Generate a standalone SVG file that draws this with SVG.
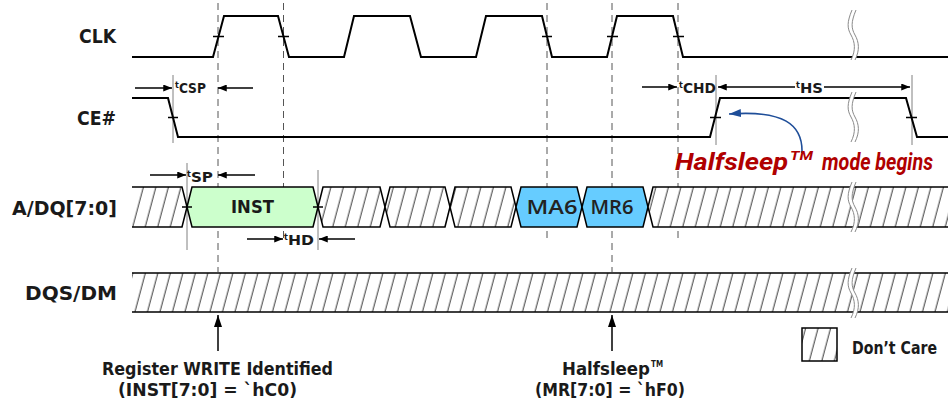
<svg xmlns="http://www.w3.org/2000/svg" width="951" height="401" viewBox="0 0 951 401">
<style>
.sig{fill:none;stroke:#000;stroke-width:2;stroke-linejoin:miter}
.bus{stroke:#000;stroke-width:1.5;stroke-linejoin:miter}
.open{fill:none;stroke:#000;stroke-width:1.5}
.tick{stroke:#000;stroke-width:1.5}
.dash{stroke:#555;stroke-width:1;stroke-dasharray:7 5;fill:none}
.ref{stroke:#808080;stroke-width:1}
.dim{stroke:#000;stroke-width:1.5;fill:none}
.lbl{font-family:"DejaVu Sans Condensed","DejaVu Sans",sans-serif;font-weight:bold;font-stretch:condensed;fill:#1a1a1a}
.big{font-size:19px}
.tl{font-size:14px}
.bot{font-size:18px}
.cell{font-family:"Open Sans","Noto Sans",sans-serif;font-weight:600;font-size:19px;fill:#222;text-anchor:middle}
.hs{font-family:Roboto,"Open Sans",sans-serif;font-weight:bold;font-style:italic;fill:#b00000}
</style>
<defs>
<pattern id="hatch" patternUnits="userSpaceOnUse" width="12.5" height="40" patternTransform="skewX(-15)">
<rect x="-1" y="-1" width="14.5" height="42" fill="#fff"/>
<line x1="6" y1="-2" x2="6" y2="42" stroke="#333" stroke-width="1"/>
</pattern>
<marker id="ah" viewBox="0 0 10 8" refX="10" refY="4" markerWidth="10" markerHeight="7" markerUnits="userSpaceOnUse" orient="auto"><path d="M0,0 L10,4 L0,8 Z" fill="#000"/></marker>
<marker id="ahl" viewBox="0 0 12 8" refX="12" refY="4" markerWidth="12" markerHeight="8" markerUnits="userSpaceOnUse" orient="auto"><path d="M0,0 L12,4 L0,8 Z" fill="#000"/></marker>
<marker id="ahb" viewBox="0 0 12 8" refX="12" refY="4" markerWidth="12" markerHeight="8" markerUnits="userSpaceOnUse" orient="auto"><path d="M0,0 L12,4 L0,8 Z" fill="#1f4e99"/></marker>
<g id="brk">
<path d="M3,0 C-2,12 -2,18 2,25 S7,40 2,50 L6,50 C11,40 10,32 6,25 S2,12 7,0 Z" fill="#fff"/>
<path d="M3,0 C-2,12 -2,18 2,25 S7,40 2,50 M7,0 C2,12 2,18 6,25 S11,40 6,50" fill="none" stroke="#8a8a8a" stroke-width="1"/>
</g>
</defs>

<rect width="951" height="401" fill="#fff"/>

<!-- signal labels -->
<g id="labels" class="lbl big" text-anchor="end">
<text x="116" y="43" textLength="37" lengthAdjust="spacingAndGlyphs">CLK</text>
<text x="116" y="125" textLength="39" lengthAdjust="spacingAndGlyphs">CE#</text>
<text x="117" y="215" textLength="105" lengthAdjust="spacingAndGlyphs">A/DQ[7:0]</text>
<text x="117" y="300" textLength="92" lengthAdjust="spacingAndGlyphs">DQS/DM</text>
</g>

<!-- connectors: dashed timing references, reference lines, dimension arrows -->
<g id="connectors">
<line class="dash" x1="218" y1="3" x2="218" y2="272"/>
<line class="dash" x1="283.5" y1="3" x2="283.5" y2="243"/>
<line class="dash" x1="547" y1="3" x2="547" y2="238"/>
<line class="dash" x1="612" y1="3" x2="612" y2="272"/>
<line class="dash" x1="678" y1="3" x2="678" y2="238"/>

<line class="ref" x1="173" y1="75" x2="173" y2="143"/>
<line class="ref" x1="187" y1="163" x2="187" y2="250"/>
<line class="ref" x1="318" y1="170" x2="318" y2="250"/>
<line class="ref" x1="716" y1="75" x2="716" y2="145"/>
<line class="ref" x1="912" y1="75" x2="912" y2="145"/>

<line class="dim" x1="135" y1="88" x2="172" y2="88" marker-end="url(#ah)"/>
<line class="dim" x1="253" y1="88" x2="218" y2="88" marker-end="url(#ah)"/>
<line class="dim" x1="150" y1="175" x2="186" y2="175" marker-end="url(#ah)"/>
<line class="dim" x1="255" y1="175" x2="218" y2="175" marker-end="url(#ah)"/>
<line class="dim" x1="247" y1="239" x2="283" y2="239" marker-end="url(#ah)"/>
<line class="dim" x1="355" y1="239" x2="319" y2="239" marker-end="url(#ah)"/>
<line class="dim" x1="642" y1="87" x2="677" y2="87" marker-end="url(#ah)"/>
<line class="dim" x1="795" y1="87" x2="718" y2="87" marker-end="url(#ah)"/>
<line class="dim" x1="824" y1="87" x2="910" y2="87" marker-end="url(#ah)"/>

<line class="dim" x1="218" y1="351" x2="218" y2="315" marker-end="url(#ahl)"/>
<line class="dim" x1="612" y1="351" x2="612" y2="315" marker-end="url(#ahl)"/>

<path d="M802,153 C803,124 783,110 729,114" fill="none" stroke="#1f4e99" stroke-width="1.6" marker-end="url(#ahb)"/>
</g>

<!-- CLK -->
<g id="sig-clk">
<path class="sig" d="M132,57 H213 L224,16 H278 L289,57 H344 L354,16 H410 L421,57 H476 L486,16 H542 L552,57 H607 L617,16 H673 L683,57 H948"/>
<path class="tick" d="M213,36.5 H224 M278,36.5 H289 M542,36.5 H552 M607,36.5 H618 M673,36.5 H684"/>
<use href="#brk" x="849" y="10"/>
</g>

<!-- CE# -->
<g id="sig-ce">
<path class="sig" d="M132,98 H168 L178,137 H710 L720,98 H906 L917,137 H948"/>
<path class="tick" d="M168,117.5 H178 M710,117.5 H721 M906,117.5 H917"/>
<use href="#brk" x="849" y="92"/>
</g>

<!-- A/DQ[7:0] bus -->
<g id="sig-adq">
<path d="M132,187 H182 L187,207 L182,227 H132 Z" fill="url(#hatch)"/>
<path class="open" d="M132,187 H182 L187,207 L182,227 H132"/>
<g id="cell-inst">
<polygon class="bus" points="187,207 192,187 313,187 318,207 313,227 192,227" fill="#ccffcc"/>
<text class="lbl" x="252.5" y="213" font-size="18" text-anchor="middle" textLength="43" lengthAdjust="spacingAndGlyphs">INST</text>
</g>
<polygon class="bus" points="318,207 323,187 380,187 385,207 380,227 323,227" fill="url(#hatch)"/>
<polygon class="bus" points="385,207 390,187 445,187 450,207 445,227 390,227" fill="url(#hatch)"/>
<polygon class="bus" points="450,207 455,187 511,187 516,207 511,227 455,227" fill="url(#hatch)"/>
<g id="cell-ma6">
<polygon class="bus" points="516,207 521,187 577,187 582,207 577,227 521,227" fill="#66ccff"/>
<text class="cell" x="552" y="214" textLength="51" lengthAdjust="spacingAndGlyphs">MA6</text>
</g>
<g id="cell-mr6">
<polygon class="bus" points="582,207 587,187 643,187 648,207 643,227 587,227" fill="#66ccff"/>
<text class="cell" x="612" y="214" textLength="43" lengthAdjust="spacingAndGlyphs">MR6</text>
</g>
<path d="M648,207 L653,187 H948 V227 H653 Z" fill="url(#hatch)"/>
<path class="open" d="M948,187 H653 L648,207 L653,227 H948"/>
<path class="tick" d="M182,207 H192 M313,207 H323"/>
<use href="#brk" x="849" y="182"/>
</g>

<!-- DQS/DM -->
<g id="sig-dqs">
<rect x="132" y="273" width="816" height="39" fill="url(#hatch)"/>
<path class="open" d="M132,273 H948 M132,312 H948"/>
<use href="#brk" x="849" y="268"/>
</g>

<!-- timing labels -->
<g id="timing-labels" class="lbl tl">
<text x="175" y="93"><tspan font-size="9" dy="-5">t</tspan><tspan dy="5" textLength="27" lengthAdjust="spacingAndGlyphs">CSP</tspan></text>
<text x="187" y="182"><tspan font-size="9" dy="-5">t</tspan><tspan dy="5" textLength="22" lengthAdjust="spacingAndGlyphs">SP</tspan></text>
<text x="284" y="245"><tspan font-size="9" dy="-5">t</tspan><tspan dy="5" textLength="26" lengthAdjust="spacingAndGlyphs">HD</tspan></text>
<text x="679" y="93"><tspan font-size="9" dy="-5">t</tspan><tspan dy="5" textLength="33" lengthAdjust="spacingAndGlyphs">CHD</tspan></text>
<text x="796" y="93"><tspan font-size="9" dy="-5">t</tspan><tspan dy="5" textLength="23" lengthAdjust="spacingAndGlyphs">HS</tspan></text>
</g>

<!-- Halfsleep mode begins annotation -->
<g id="note-halfsleep">
<text class="hs" x="675" y="170" font-size="23" textLength="113" lengthAdjust="spacingAndGlyphs">Halfsleep</text>
<text class="hs" x="790" y="160" font-size="13" textLength="23" lengthAdjust="spacingAndGlyphs">TM</text>
<text class="hs" x="822" y="170" font-size="23" textLength="111" lengthAdjust="spacingAndGlyphs">mode begins</text>
</g>

<!-- bottom captions -->
<g id="caption-write" class="lbl bot">
<text x="102" y="375" textLength="231" lengthAdjust="spacingAndGlyphs">Register WRITE Identified</text>
<text x="118" y="396" textLength="179" lengthAdjust="spacingAndGlyphs">(INST[7:0] = `hC0)</text>
</g>
<g id="caption-halfsleep" class="lbl bot">
<text x="562" y="375" textLength="88" lengthAdjust="spacingAndGlyphs">Halfsleep</text>
<text x="651" y="367" font-size="9" textLength="12" lengthAdjust="spacingAndGlyphs">TM</text>
<text x="535" y="396" textLength="150" lengthAdjust="spacingAndGlyphs">(MR[7:0] = `hF0)</text>
</g>

<!-- legend -->
<g id="legend">
<rect x="802" y="328" width="35" height="33" fill="url(#hatch)" stroke="#000" stroke-width="1.5"/>
<text class="lbl bot" x="852" y="354" textLength="85" lengthAdjust="spacingAndGlyphs">Don’t Care</text>
</g>
</svg>
